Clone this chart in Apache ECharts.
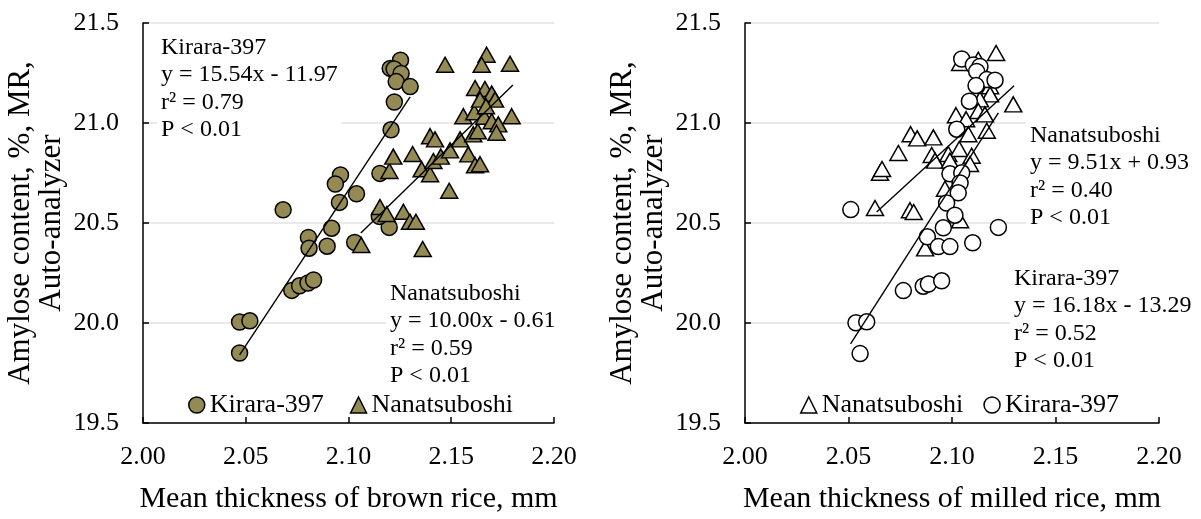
<!DOCTYPE html>
<html>
<head>
<meta charset="utf-8">
<script src="https://cdn.jsdelivr.net/npm/echarts@6/dist/echarts.min.js"></script>
<style>
  html, body { margin: 0; padding: 0; background: #fff; }
  #chart { width: 1201px; height: 519px; }
</style>
</head>
<body>
<div id="chart"></div>
<script>
// Amylose content vs. grain thickness, brown rice (left) and milled rice (right)
const kiraraBrown = [
  [2.1253, 21.314], [2.1203, 21.273], [2.1222, 21.270], [2.1256, 21.248],
  [2.1232, 21.207], [2.1300, 21.182], [2.1223, 21.105], [2.1207, 20.966],
  [2.0961, 20.740], [2.0936, 20.695], [2.1153, 20.748], [2.1039, 20.646],
  [2.0956, 20.603], [2.0682, 20.566], [2.0918, 20.474], [2.1198, 20.478],
  [2.1150, 20.533], [2.1030, 20.403], [2.0805, 20.428], [2.0808, 20.374],
  [2.0896, 20.384], [2.0724, 20.163], [2.0762, 20.186], [2.0803, 20.200],
  [2.0830, 20.215], [2.0470, 20.005], [2.0520, 20.011], [2.0470, 19.850]
];
const nanaBrown = [
  [2.1062, 20.390], [2.1361, 20.370], [2.1153, 20.580], [2.1186, 20.545],
  [2.1267, 20.556], [2.1299, 20.506], [2.1328, 20.506], [2.1199, 20.760],
  [2.1218, 20.832], [2.1312, 20.845], [2.1356, 20.769], [2.1397, 20.744],
  [2.1413, 20.810], [2.1449, 20.832], [2.1494, 20.863], [2.1397, 20.934],
  [2.1421, 20.918], [2.1490, 20.661], [2.1543, 20.918], [2.1583, 20.843],
  [2.1607, 20.943], [2.1629, 20.959], [2.1616, 20.789], [2.1640, 20.794],
  [2.1559, 21.034], [2.1612, 21.054], [2.1660, 21.031], [2.1697, 21.009],
  [2.1729, 20.993], [2.1794, 21.034], [2.1720, 20.951], [2.1616, 21.175],
  [2.1664, 21.170], [2.1697, 21.147], [2.1713, 21.117], [2.1640, 21.117],
  [2.1669, 21.084], [2.1470, 21.291], [2.1672, 21.341], [2.1648, 21.291],
  [2.1786, 21.296]
];
const kiraraMilled = [
  [2.1047, 21.320], [2.1103, 21.290], [2.1135, 21.283], [2.1119, 21.258],
  [2.1168, 21.217], [2.1208, 21.214], [2.1116, 21.187], [2.1084, 21.109],
  [2.1023, 20.969], [2.0990, 20.746], [2.1047, 20.751], [2.1039, 20.700],
  [2.1030, 20.651], [2.0974, 20.600], [2.1014, 20.539], [2.0511, 20.567],
  [2.0958, 20.476], [2.1224, 20.478], [2.0881, 20.431], [2.0934, 20.382],
  [2.0990, 20.382], [2.1100, 20.401], [2.0765, 20.162], [2.0861, 20.184],
  [2.0886, 20.195], [2.0950, 20.211], [2.0536, 20.001], [2.0588, 20.006],
  [2.0556, 19.847]
];
const nanaMilled = [
  [2.1213, 21.350], [2.1127, 21.316], [2.1039, 21.300], [2.1184, 21.184],
  [2.1184, 21.143], [2.1135, 21.118], [2.1296, 21.093], [2.1127, 21.060],
  [2.1159, 21.043], [2.1019, 21.039], [2.1068, 21.019], [2.1168, 20.961],
  [2.1079, 20.944], [2.0800, 20.944], [2.0832, 20.923], [2.0910, 20.928],
  [2.0741, 20.850], [2.0902, 20.840], [2.0918, 20.812], [2.0982, 20.845],
  [2.1035, 20.870], [2.1095, 20.836], [2.1087, 20.795], [2.0990, 20.812],
  [2.0652, 20.751], [2.0662, 20.770], [2.0797, 20.564], [2.0628, 20.575],
  [2.0815, 20.555], [2.1039, 20.514], [2.0870, 20.373], [2.0966, 20.671]
];

// Linear fits: [slope, intercept, r2, x from, x to]
const fitKiraraBrown = [15.54, -11.97, 0.79, 2.047, 2.130];
const fitNanaBrown   = [10.00, -0.61, 0.59, 2.106, 2.180];
const fitNanaMilled  = [9.51, 0.93, 0.40, 2.0636, 2.130];
const fitKiraraMilled = [16.18, -13.29, 0.52, 2.051, 2.1224];

const seriesNames = ['Kirara-397', 'Nanatsuboshi'];
const xAxisTitles = ['Mean thickness of brown rice, mm', 'Mean thickness of milled rice, mm'];
const yAxisTitle = 'Amylose content, %, MR,\nAuto-analyzer';

const OLIVE = '#948A54';
const FONT = '"Liberation Serif", "Times New Roman", serif';

function fitLine(f) {
  return [[f[3], f[0] * f[3] + f[1]], [f[4], f[0] * f[4] + f[1]]];
}
function fitText(name, f) {
  const sign = f[1] < 0 ? '-' : '+';
  return name + '\n' +
    'y = ' + f[0].toFixed(2) + 'x ' + sign + ' ' + Math.abs(f[1]).toFixed(2) + '\n' +
    'r\u00B2 = ' + f[2].toFixed(2) + '\n' +
    'P < 0.01';
}

const grids = [
  { left: 143, top: 23, width: 411, height: 402 },
  { left: 745, top: 23, width: 414, height: 403 }
];

function xAx(i) {
  return {
    gridIndex: i, type: 'value', min: 2.0, max: 2.2, interval: 0.05,
    name: xAxisTitles[i], nameLocation: 'middle', nameGap: 61,
    nameTextStyle: { fontFamily: FONT, fontSize: 30, color: '#000' },
    axisLine: { lineStyle: { color: '#000', width: 1.5 } },
    axisTick: { show: true, inside: true, length: 6, lineStyle: { color: '#000', width: 1.5 } },
    axisLabel: { formatter: v => v.toFixed(2), fontFamily: FONT, fontSize: 26, color: '#000', margin: 21 },
    splitLine: { show: false }
  };
}
function yAx(i) {
  return {
    gridIndex: i, type: 'value', min: 19.5, max: 21.5, interval: 0.5,
    name: yAxisTitle, nameLocation: 'middle', nameGap: 76, nameRotate: 90,
    nameTextStyle: { fontFamily: FONT, fontSize: 31, color: '#000', lineHeight: 31 },
    axisLine: { show: true, lineStyle: { color: '#000', width: 1.5 } },
    axisTick: { show: true, inside: true, length: 6, lineStyle: { color: '#000', width: 1.5 } },
    axisLabel: { formatter: v => v.toFixed(1), fontFamily: FONT, fontSize: 26, color: '#000', margin: 24 },
    splitLine: { show: true, lineStyle: { color: '#e9e9e9', width: 2 } }
  };
}

function scatter(name, idx, data, symbol, filled, z) {
  return {
    name: name, type: 'scatter', xAxisIndex: idx, yAxisIndex: idx,
    data: data, symbol: symbol,
    symbolSize: symbol === 'triangle' ? [17, 15] : 16,
    itemStyle: { color: filled ? OLIVE : '#fff', borderColor: '#000', borderWidth: 1.5, opacity: 1 },
    emphasis: { disabled: true }, z: z, animation: false
  };
}
function line(idx, f) {
  return {
    type: 'line', xAxisIndex: idx, yAxisIndex: idx, data: fitLine(f),
    showSymbol: false, symbol: 'none',
    lineStyle: { color: '#000', width: 1.4 }, z: 5, animation: false, silent: true
  };
}

function annotation(x, y, text) {
  return {
    type: 'text', left: x, top: y, z: 1, silent: true,
    style: {
      text: text, font: '24px ' + FONT, fill: '#000', lineHeight: 27.3,
      backgroundColor: '#fff', padding: [2, 4, 2, 4]
    }
  };
}

function legendItem(name, icon, filled) {
  return { name: name, icon: icon,
    itemStyle: { color: filled ? OLIVE : '#fff', borderColor: '#000', borderWidth: 1.5 } };
}

const chart = echarts.init(document.getElementById('chart'), null, { renderer: 'canvas' });
chart.setOption({
  backgroundColor: '#fff',
  animation: false,
  grid: grids,
  xAxis: [xAx(0), xAx(1)],
  yAxis: [yAx(0), yAx(1)],
  legend: [
    {
      left: 188, top: 392, padding: 0, itemWidth: 16, itemHeight: 16, itemGap: 26, selectedMode: false,
      textStyle: { fontFamily: FONT, fontSize: 26, color: '#000' },
      data: [legendItem(seriesNames[0], 'circle', true), legendItem(seriesNames[1], 'triangle', true)]
    },
    {
      left: 800, top: 392, padding: 0, itemWidth: 16, itemHeight: 16, itemGap: 20, selectedMode: false,
      textStyle: { fontFamily: FONT, fontSize: 26, color: '#000' },
      data: [legendItem(seriesNames[1], 'triangle', false), legendItem(seriesNames[0], 'circle', false)]
    }
  ],
  graphic: [
    annotation(157, 32, fitText('Kirara-397', fitKiraraBrown)),
    annotation(386, 278, fitText('Nanatsuboshi', fitNanaBrown)),
    annotation(1026, 120, fitText('Nanatsuboshi', fitNanaMilled)),
    annotation(1010, 263, fitText('Kirara-397', fitKiraraMilled))
  ],
  series: [
    scatter(seriesNames[0], 0, kiraraBrown, 'circle', true, 2),
    scatter(seriesNames[1], 0, nanaBrown, 'triangle', true, 3),
    line(0, fitKiraraBrown),
    line(0, fitNanaBrown),
    scatter(seriesNames[1], 1, nanaMilled, 'triangle', false, 2),
    scatter(seriesNames[0], 1, kiraraMilled, 'circle', false, 3),
    line(1, fitNanaMilled),
    line(1, fitKiraraMilled)
  ]
});
</script>
</body>
</html>
